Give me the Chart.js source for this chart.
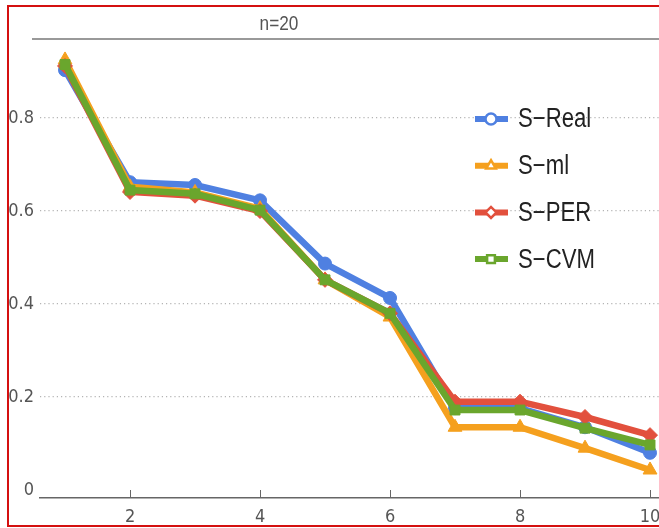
<!DOCTYPE html>
<html>
<head>
<meta charset="utf-8">
<script src="https://cdn.jsdelivr.net/npm/chart.js@4/dist/chart.umd.min.js"></script>
<style>
    html, body { margin: 0; padding: 0; background: #fff; }
    #wrap { position: relative; width: 659px; height: 528px; overflow: hidden; }
    #frame {
        position: absolute; left: 7px; top: 5px; width: 660px; height: 518px;
        border: 2px solid #d41010; border-right: none; pointer-events: none;
    }
</style>
</head>
<body>
<div id="wrap">
    <canvas id="chart" width="659" height="528"></canvas>
    <div id="frame"></div>
</div>
<script>
// Dados
const xValues = [1, 2, 3, 4, 5, 6, 7, 8, 9, 10];
const sReal = [0.903, 0.662, 0.656, 0.623, 0.487, 0.413, 0.176, 0.176, 0.135, 0.080];
const sMl   = [0.925, 0.652, 0.640, 0.605, 0.452, 0.372, 0.135, 0.135, 0.090, 0.043];
const sPer  = [0.912, 0.641, 0.633, 0.600, 0.452, 0.380, 0.190, 0.190, 0.157, 0.118];
const sCvm  = [0.915, 0.645, 0.637, 0.602, 0.452, 0.380, 0.172, 0.172, 0.133, 0.097];
const xTicks = [2, 4, 6, 8, 10];
const yTicks = [0, 0.2, 0.4, 0.6, 0.8];
const chartTitle = 'n=20';

const FONT = "'DejaVu Sans Condensed', 'Liberation Sans Narrow', sans-serif";
const TEXT_FONT = "'Liberation Sans', Arial, sans-serif";

// Séries
const series = [
    { label: 'S\u2212Real', data: sReal, color: '#4f80e1', style: 'circle', radius: 6.5 },
    { label: 'S\u2212ml',   data: sMl,   color: '#f5a01e', style: 'triangle', radius: 8 },
    { label: 'S\u2212PER',  data: sPer,  color: '#e2503d', style: 'rectRot', radius: 7.5 },
    { label: 'S\u2212CVM',  data: sCvm,  color: '#6aa62d', style: 'rect', radius: 7 }
];

// Texto estreito (imitando fonte condensada)
function textoEstreito(ctx, texto, x, y, size, align) {
    ctx.save();
    ctx.font = size + 'px ' + TEXT_FONT;
    ctx.textBaseline = 'middle';
    ctx.textAlign = align;
    ctx.translate(x, y);
    ctx.scale(0.82, 1);
    ctx.fillText(texto, 0, 0);
    ctx.restore();
}

// Título, moldura superior, marcas do eixo x e legenda
const decoracao = {
    id: 'decoracao',
    beforeDatasetsDraw(chart) {
        const { ctx, chartArea, scales } = chart;
        ctx.save();
        ctx.strokeStyle = '#777';
        ctx.lineWidth = 1.5;
        ctx.beginPath();
        ctx.moveTo(32, chartArea.top);
        ctx.lineTo(chart.width, chartArea.top);
        ctx.stroke();

        ctx.fillStyle = '#555';
        textoEstreito(ctx, chartTitle, 279, 24, 21, 'center');

        // marcas para dentro
        ctx.strokeStyle = '#666';
        ctx.lineWidth = 1;
        xTicks.forEach(function(v) {
            const x = Math.round(scales.x.getPixelForValue(v)) + 0.5;
            ctx.beginPath();
            ctx.moveTo(x, chartArea.bottom);
            ctx.lineTo(x, chartArea.bottom - 8);
            ctx.stroke();
        });
        ctx.restore();
    },
    afterDraw(chart) {
        const ctx = chart.ctx;
        ctx.save();
        series.forEach(function(s, i) {
            const y = 119 + i * 46.7;
            ctx.strokeStyle = s.color;
            ctx.lineWidth = 6;
            ctx.beginPath();
            ctx.moveTo(475, y);
            ctx.lineTo(508, y);
            ctx.stroke();
            ctx.fillStyle = '#fff';
            ctx.lineWidth = 2.5;
            Chart.helpers.drawPoint(ctx, {
                pointStyle: s.style, radius: 5.5, rotation: 0, borderWidth: 2.5
            }, 491, y);
            ctx.fillStyle = '#222';
            textoEstreito(ctx, s.label, 518, y + 1, 27, 'left');
        });
        ctx.restore();
    }
};

const ctx = document.getElementById('chart');
new Chart(ctx, {
    type: 'line',
    data: {
        datasets: series.map(function(s, i) {
            return {
                label: s.label,
                data: xValues.map(function(x, k) { return { x: x, y: s.data[k] }; }),
                borderColor: s.color,
                backgroundColor: s.color,
                pointBackgroundColor: s.color,
                pointBorderColor: s.color,
                pointBorderWidth: 1,
                pointStyle: s.style,
                pointRadius: s.radius,
                borderWidth: 6.5,
                tension: 0,
                clip: 12,
                order: series.length - 1 - i
            };
        })
    },
    options: {
        responsive: false,
        animation: false,
        devicePixelRatio: 1,
        layout: { autoPadding: false, padding: { top: 39, right: 0, left: 0, bottom: 0 } },
        plugins: {
            legend: { display: false },
            title: { display: false },
            tooltip: { enabled: false }
        },
        scales: {
            x: {
                type: 'linear',
                min: 0.615,
                max: 10.138,
                afterBuildTicks: function(scale) {
                    scale.ticks = xTicks.map(function(v) { return { value: v }; });
                },
                afterFit: function(scale) {
                    scale.height = 30;
                    scale.paddingLeft = 0;
                    scale.paddingRight = 0;
                },
                grid: { drawOnChartArea: false, drawTicks: true, tickLength: 18, tickColor: 'rgba(0,0,0,0)' },
                border: { display: true, color: '#666', width: 1.5 },
                ticks: {
                    padding: -9,
                    color: '#555',
                    font: { family: FONT, size: 18 },
                    maxRotation: 0,
                    autoSkip: false
                }
            },
            y: {
                type: 'linear',
                min: -0.0172,
                max: 0.970,
                afterBuildTicks: function(scale) {
                    scale.ticks = yTicks.map(function(v) { return { value: v }; });
                },
                afterFit: function(scale) { scale.width = 40; },
                grid: {
                    drawTicks: false,
                    lineWidth: 1.2,
                    color: function(c) {
                        return c.tick && c.tick.value === 0 ? 'rgba(0,0,0,0)' : '#b4b4b4';
                    }
                },
                border: { display: false, dash: [1.2, 3] },
                ticks: {
                    padding: 6,
                    color: '#555',
                    font: { family: FONT, size: 18 },
                    callback: function(v) { return v === 0 ? '0' : v.toFixed(1); }
                }
            }
        }
    },
    plugins: [decoracao]
});
</script>
</body>
</html>
